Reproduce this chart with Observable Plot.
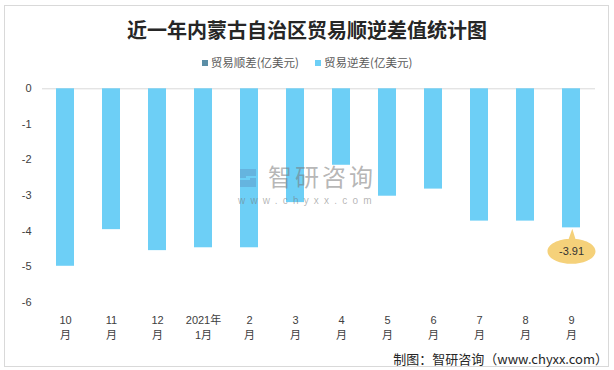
<!DOCTYPE html>
<html>
<head>
<meta charset="utf-8">
<script src="https://cdn.jsdelivr.net/npm/d3@7"></script>
<script src="https://cdn.jsdelivr.net/npm/@observablehq/plot@0.6"></script>
<style>
  html, body { margin: 0; padding: 0; background: #fff; }
  #wrap { position: relative; width: 614px; height: 370px; overflow: hidden; font-family: "Liberation Sans", "Noto Sans CJK SC", sans-serif; }
  #frame { position: absolute; left: 4px; top: 5px; width: 605px; height: 362px; border: 1px solid #d9d9d9; box-sizing: border-box; }
  #chart { position: absolute; left: 0; top: 0; }
  #title { position: absolute; left: 0; width: 614px; top: 17px; text-align: center; font-family: "Noto Sans CJK SC", sans-serif; font-weight: 700; font-size: 20px; line-height: 26px; color: #262626; }
  #legend { position: absolute; left: 0; width: 614px; top: 54px; text-align: center; font-family: "Noto Sans CJK SC", sans-serif; font-size: 11.5px; line-height: 16px; color: #595959; }
  #legend span.item { display: inline-block; margin: 0 8px; }
  #legend span.sw { display: inline-block; width: 6px; height: 6px; margin-right: 3px; vertical-align: 1px; }
  #caption { position: absolute; right: 6px; top: 350px; font-family: "Noto Sans CJK SC", sans-serif; font-size: 13px; line-height: 18px; color: #262626; }
  #wm { position: absolute; left: 268px; top: 164px; font-family: "Noto Sans CJK SC", sans-serif; font-size: 24px; line-height: 24px; color: rgba(120,120,120,0.55); letter-spacing: 3px; pointer-events: none; }
  #wm2 { position: absolute; left: 238px; top: 195px; font-family: "Liberation Sans", sans-serif; font-size: 10px; line-height: 11px; color: rgba(120,120,120,0.55); letter-spacing: 5.2px; pointer-events: none; }
  #logo { position: absolute; left: 238px; top: 167px; width: 22px; height: 22px; pointer-events: none; }
</style>
</head>
<body>
<div id="wrap">
  <div id="frame"></div>
  <div id="chart"></div>
  <div id="title"></div>
  <div id="legend"></div>
  <div id="caption"></div>
  <svg id="logo" viewBox="0 0 22 22"><path d="M2 2h16v7H8v2h10v9H2v-7h10v-2H2z" fill="rgba(90,140,190,0.4)"/></svg>
  <div id="wm">智研咨询</div>
  <div id="wm2">www.chyxx.com</div>
</div>
<script>
const titleText = "近一年内蒙古自治区贸易顺逆差值统计图";
const seriesNames = ["贸易顺差(亿美元)", "贸易逆差(亿美元)"];
const seriesColors = ["#5b8ea6", "#6dcff6"];
const months = ["10\n月", "11\n月", "12\n月", "2021年\n1月", "2\n月", "3\n月", "4\n月", "5\n月", "6\n月", "7\n月", "8\n月", "9\n月"];
const surplus = [0, 0, 0, 0, 0, 0, 0, 0, 0, 0, 0, 0];
const deficit = [-4.99, -3.96, -4.55, -4.47, -4.47, -3.2, -2.15, -3.02, -2.82, -3.72, -3.72, -3.91];
const yTicks = [0, -1, -2, -3, -4, -5, -6];
const calloutMonth = "9\n月";
const calloutValue = -3.91;
const captionText = "制图：智研咨询（www.chyxx.com）";

document.getElementById("title").textContent = titleText;
document.getElementById("caption").textContent = captionText;
const legend = document.getElementById("legend");
seriesNames.forEach((n, i) => {
  const item = document.createElement("span");
  item.className = "item";
  const sw = document.createElement("span");
  sw.className = "sw";
  sw.style.background = seriesColors[i];
  item.appendChild(sw);
  item.appendChild(document.createTextNode(n));
  legend.appendChild(item);
});

const data = months.map((m, i) => ({month: m, value: deficit[i], surplus: surplus[i]}));
const callout = [{month: calloutMonth, value: calloutValue}];

const calloutSymbol = {
  draw(ctx) {
    const cx = 0, cy = 23.5, rx = 24, ry = 12.5, k = 0.5523;
    ctx.moveTo(cx + rx, cy);
    ctx.bezierCurveTo(cx + rx, cy + k * ry, cx + k * rx, cy + ry, cx, cy + ry);
    ctx.bezierCurveTo(cx - k * rx, cy + ry, cx - rx, cy + k * ry, cx - rx, cy);
    ctx.bezierCurveTo(cx - rx, cy - k * ry, cx - k * rx, cy - ry, cx, cy - ry);
    ctx.bezierCurveTo(cx + k * rx, cy - ry, cx + rx, cy - k * ry, cx + rx, cy);
    ctx.closePath();
    ctx.moveTo(0.8, 1);
    ctx.lineTo(4.5, cy - ry + 2);
    ctx.lineTo(-3.5, cy - ry + 2);
    ctx.closePath();
  }
};

const chart = Plot.plot({
  width: 614,
  height: 370,
  marginTop: 88.3,
  marginBottom: 68.3,
  marginLeft: 42,
  marginRight: 19,
  style: {fontFamily: "'Liberation Sans', 'Noto Sans CJK SC', sans-serif", fontSize: "11px", color: "#404040", background: "transparent"},
  x: {domain: months, paddingInner: 0.6, paddingOuter: 0.3, axis: null},
  y: {domain: [-6, 0], axis: null},
  marks: [
    Plot.ruleY([0], {stroke: "#d9d9d9", strokeWidth: 1}),
    Plot.barY(data, {x: "month", y: "value", fill: seriesColors[1]}),
    Plot.axisY({ticks: yTicks, tickSize: 0, tickPadding: 11, tickFormat: d => String(d), fill: "#404040", label: null}),
    Plot.axisX({tickSize: 0, tickPadding: 11, lineHeight: 1.35, fill: "#404040", label: null}),
    Plot.dot(callout, {x: "month", y: "value", symbol: calloutSymbol, fill: "#f5d17a", stroke: "none", r: 10}),
    Plot.text(callout, {x: "month", y: "value", text: d => String(d.value), dy: 23.5, fontSize: 11, fill: "#333"})
  ]
});
document.getElementById("chart").appendChild(chart);
</script>
</body>
</html>
